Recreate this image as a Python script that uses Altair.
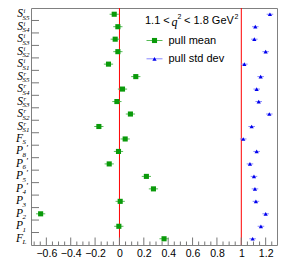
import altair as alt
import pandas as pd
import numpy as np

# ---- data ----
main = ["S", "S", "S", "S", "S", "S", "S", "S", "S", "S",
        "F", "P", "P", "P", "P", "P", "P", "P", "F"]
sup = ["i", "i", "i", "i", "i", "r", "r", "r", "r", "r",
       "", "\u2032", "\u2032", "\u2032", "\u2032", "", "", "", ""]
sub = ["S5", "S4", "S3", "S2", "S1", "S5", "S4", "S3", "S2", "S1",
       "S", "8", "6", "5", "4", "3", "2", "1", "L"]
pull_mean = [-0.043, -0.013, -0.035, -0.013, -0.090, 0.134, 0.025, -0.021, 0.090, -0.169,
             0.047, -0.008, -0.084, 0.221, 0.279, 0.006, -0.647, -0.005, 0.366]
pull_mean_err = [0.038, 0.038, 0.038, 0.038, 0.038, 0.038, 0.038, 0.038, 0.038, 0.038,
                 0.038, 0.038, 0.038, 0.038, 0.038, 0.038, 0.038, 0.038, 0.038]
pull_std = [1.235, 1.115, 1.107, 1.200, 1.025, 1.159, 1.126, 1.143, 1.230, 1.085,
            1.016, 1.126, 1.071, 1.104, 1.112, 1.120, 1.200, 1.161, 1.093]
pull_std_err = [0.027, 0.027, 0.027, 0.027, 0.027, 0.027, 0.027, 0.027, 0.027, 0.027,
                0.027, 0.027, 0.027, 0.027, 0.027, 0.027, 0.027, 0.027, 0.027]
ref_lines = [0, 1]
x_labels = [-0.6, -0.4, -0.2, 0, 0.2, 0.4, 0.6, 0.8, 1, 1.2]

W, H = 246, 237
GREEN, GREEN_L = "#0a9a0a", "#55bb55"
BLUE, BLUE_L = "#0000ee", "#8888ff"

n = len(main)
df = pd.DataFrame({
    "idx": list(range(n)), "main": main, "sup": sup, "sub": sub,
    "mean": pull_mean, "mlo": [m - e for m, e in zip(pull_mean, pull_mean_err)],
    "mhi": [m + e for m, e in zip(pull_mean, pull_mean_err)],
    "std": pull_std, "slo": [m - e for m, e in zip(pull_std, pull_std_err)],
    "shi": [m + e for m, e in zip(pull_std, pull_std_err)],
})
df["plain_sup"] = [s if s in ("i", "r") else "" for s in sup]
df["prime"] = [s if s == "\u2032" else "" for s in sup]

xs = alt.Scale(domain=[-0.726, 1.293], nice=False, zero=False)
ys = alt.Scale(domain=[-0.5, n - 0.5], reverse=True, nice=False, zero=False)
xaxis = alt.Axis(values=x_labels, format="~g", title=None, ticks=False, domain=False,
                 grid=False, labelFont="Liberation Sans", labelFontSize=10.5,
                 labelColor="black", labelPadding=3)


def X(f):
    return alt.X(f, type="quantitative", scale=xs, axis=xaxis)


def Y(f):
    return alt.Y(f, type="quantitative", scale=ys, axis=None)


base = alt.Chart(df)

# reference lines
lines = alt.Chart(pd.DataFrame({"v": ref_lines})).mark_rule(color="#ff0000", strokeWidth=1).encode(x=X("v"))

# x ticks (inward)
major = [round(v, 2) for v in np.arange(-0.6, 1.21, 0.2)]
minor = [round(v, 2) for v in np.arange(-0.7, 1.29, 0.05) if all(abs(v - m) > 1e-6 for m in major)]
tmaj = alt.Chart(pd.DataFrame({"v": major})).mark_rule(color="#777", strokeWidth=1).encode(
    x=X("v"), y=alt.value(H), y2=alt.value(H - 7.5))
tmin = alt.Chart(pd.DataFrame({"v": minor})).mark_rule(color="#777", strokeWidth=1).encode(
    x=X("v"), y=alt.value(H), y2=alt.value(H - 3.5))

# y ticks at row boundaries
yt = alt.Chart(pd.DataFrame({"b": [i + 0.5 for i in range(n - 1)]})).mark_rule(color="#777", strokeWidth=1).encode(
    y=Y("b"), x=alt.value(0), x2=alt.value(8))

# pull mean
merr = base.mark_rule(color=GREEN_L, strokeWidth=1).encode(x=X("mlo"), x2="mhi", y=Y("idx"))
mpt = base.mark_square(size=26, color=GREEN, opacity=1).encode(x=X("mean"), y=Y("idx"))

# pull std dev
serr = base.mark_rule(color=BLUE_L, strokeWidth=1).encode(x=X("slo"), x2="shi", y=Y("idx"))
spt = base.mark_point(shape="triangle-up", filled=True, size=18, color=BLUE, opacity=1).encode(
    x=X("std"), y=Y("idx"))

# y labels
lab_font = "Liberation Serif"
lmain = base.mark_text(font=lab_font, fontStyle="italic", fontSize=11.5, align="right",
                       baseline="middle", color="black").encode(
    x=alt.value(-8), y=Y("idx"), text="main")
lsub = base.mark_text(font=lab_font, fontStyle="italic", fontSize=7, align="left",
                      baseline="middle", color="black", dy=3.5).encode(
    x=alt.value(-8.5), y=Y("idx"), text="sub")
lsup = base.mark_text(font=lab_font, fontStyle="italic", fontSize=6.5, align="left",
                      baseline="middle", color="black", dy=-3).encode(
    x=alt.value(-7.5), y=Y("idx"), text="plain_sup")
lprime = base.mark_text(font=lab_font, fontStyle="italic", fontSize=9, align="left",
                        baseline="middle", color="black", dy=-3).encode(
    x=alt.value(-5), y=Y("idx"), text="prime")

# legend
lf = "Liberation Sans"
leg_rows = pd.DataFrame({"label": ["pull mean", "pull std dev"], "py": [32.5, 50.8]})
t1 = alt.Chart(pd.DataFrame({"t": ["1.1 <"]})).mark_text(font=lf, fontSize=11, align="left", baseline="middle").encode(
    x=alt.value(114), y=alt.value(12.8), text="t")
t2 = alt.Chart(pd.DataFrame({"t": ["q"]})).mark_text(font="Liberation Serif", fontStyle="italic", fontSize=12, align="left", baseline="middle").encode(
    x=alt.value(140.5), y=alt.value(13.5), text="t")
t3 = alt.Chart(pd.DataFrame({"t": ["2"]})).mark_text(font=lf, fontSize=7, align="left", baseline="middle").encode(
    x=alt.value(146.5), y=alt.value(9), text="t")
t4 = alt.Chart(pd.DataFrame({"t": ["< 1.8 GeV"]})).mark_text(font=lf, fontSize=11, align="left", baseline="middle").encode(
    x=alt.value(153), y=alt.value(12.8), text="t")
t5 = alt.Chart(pd.DataFrame({"t": ["2"]})).mark_text(font=lf, fontSize=7, align="left", baseline="middle").encode(
    x=alt.value(203.5), y=alt.value(9), text="t")

lg_line1 = alt.Chart(leg_rows.iloc[[0]]).mark_rule(color=GREEN_L, strokeWidth=1).encode(
    x=alt.value(115.5), x2=alt.value(131.5), y=alt.value(32.5))
lg_pt1 = alt.Chart(leg_rows.iloc[[0]]).mark_square(size=26, color=GREEN, opacity=1).encode(
    x=alt.value(123.5), y=alt.value(32.5))
lg_line2 = alt.Chart(leg_rows.iloc[[1]]).mark_rule(color=BLUE_L, strokeWidth=1).encode(
    x=alt.value(115.5), x2=alt.value(131.5), y=alt.value(50.8))
lg_pt2 = alt.Chart(leg_rows.iloc[[1]]).mark_point(shape="triangle-up", filled=True, size=18, color=BLUE, opacity=1).encode(
    x=alt.value(123.5), y=alt.value(50.8))
lg_txt = alt.Chart(leg_rows).mark_text(font=lf, fontSize=11, align="left", baseline="middle", color="black").encode(
    x=alt.value(137.5), y=alt.Y("py:Q", scale=None, axis=None), text="label")

chart = alt.layer(
    lines, tmaj, tmin, yt, merr, mpt, serr, spt,
    lmain, lsub, lsup, lprime,
    t1, t2, t3, t4, t5, lg_line1, lg_pt1, lg_line2, lg_pt2, lg_txt,
).resolve_scale(y="independent").properties(
    width=W, height=H,
    autosize=alt.AutoSizeParams(type="none"),
    padding={"left": 23, "top": 0, "right": 2, "bottom": 30},
).configure_view(stroke="#808080", strokeWidth=1)

chart.save("out.html", embed_options={"renderer": "svg", "actions": False})
